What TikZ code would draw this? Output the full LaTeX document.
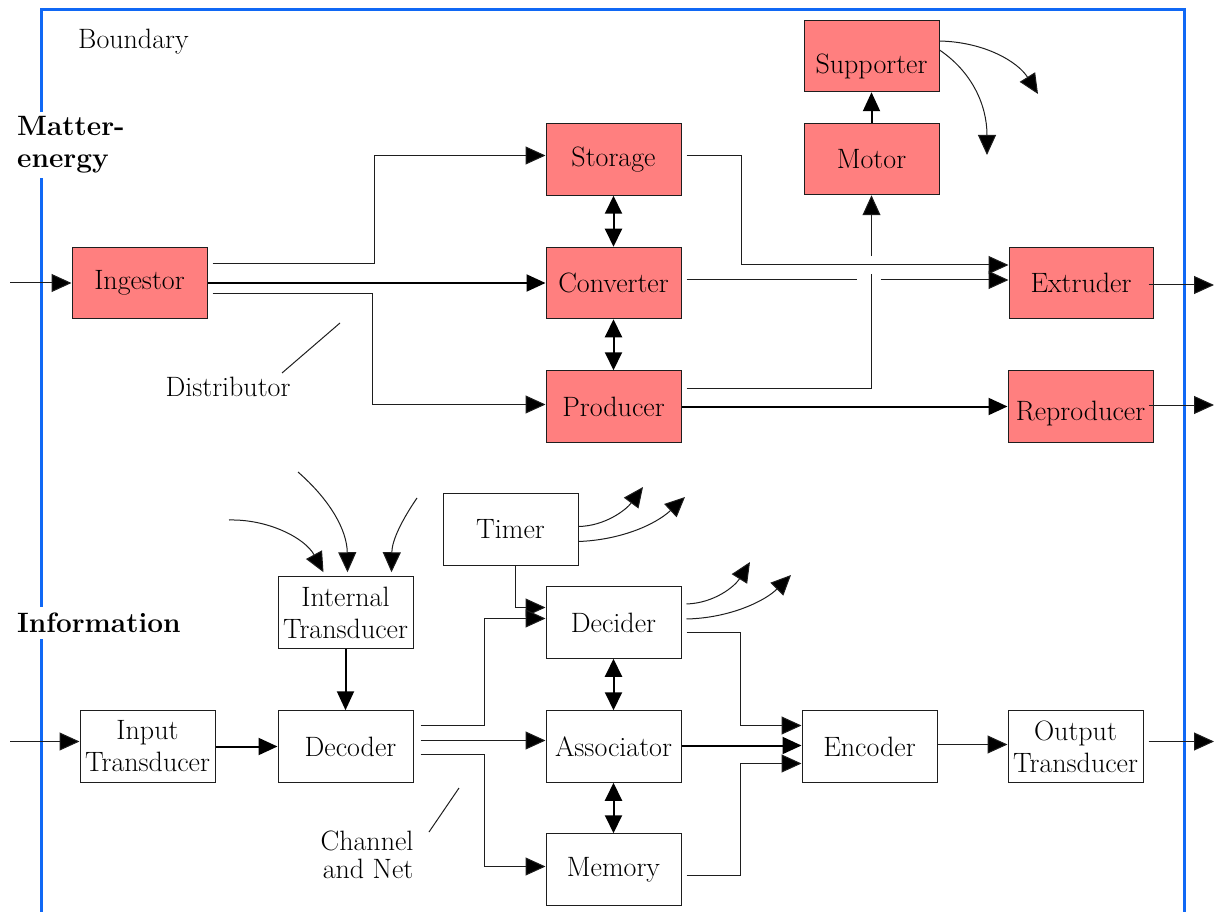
\documentclass[tikz,border=0pt]{standalone}
\usepackage{fontspec}
\usetikzlibrary{arrows.meta,calc}
\definecolor{pinkfill}{RGB}{255,127,127}
\definecolor{bound}{RGB}{16,104,245}
\definecolor{edge}{RGB}{30,30,30}
\begin{document}
\begin{tikzpicture}[x=1pt,y=-1pt,
  txt/.style={font=\fontsize{28}{32}\selectfont},
  btxt/.style={font=\fontsize{28}{32}\selectfont\bfseries},
  box/.style={txt,draw=edge,line width=1pt,minimum width=135pt,minimum height=71.5pt,inner sep=0pt,align=center},
  pbox/.style={box,fill=pinkfill},
  arr/.style={draw=edge,line width=1pt,-{Triangle[length=20pt,width=18pt,fill=black]}},
  tarr/.style={draw=black,line width=2pt,-{Triangle[length=19pt,width=17pt]}},
  darr/.style={draw=black,line width=2pt,{Triangle[length=18pt,width=17pt]}-{Triangle[length=18pt,width=17pt]}},
  ln/.style={draw=edge,line width=1pt},
  lbl/.style={txt,inner sep=2pt}
]
\useasboundingbox (0,0) rectangle (1216,912);
% boundary
\draw[bound,line width=3pt] (41,914) -- (41,10) -- (1184,10) -- (1184,914);

% matter-energy boxes
\node[pbox] (sup) at (871.5,56) {\raisebox{-18pt}[0pt][0pt]{Supporter}};
\node[pbox] (mot) at (871.5,159) {Motor};
\node[pbox] (stor) at (613.5,159.5) {Storage};
\node[pbox] (conv) at (613.5,283) {Converter};
\node[pbox] (prod) at (613.5,406.5) {Producer};
\node[pbox] (ing) at (139.5,283) {Ingestor};
\node[pbox,minimum width=144pt] (ext) at (1081,283) {Extruder};
\node[pbox,minimum width=145pt] (rep) at (1080.5,406.5) {\raisebox{-14pt}[0pt][0pt]{Reproducer}};

% information boxes
\node[box] (timer) at (510.5,529.5) {Timer};
\node[box] (intt) at (345.5,612.5) {Internal\\Transducer};
\node[box] (dec) at (613.5,622.5) {Decider};
\node[box] (inp) at (147.5,746.5) {Input\\Transducer};
\node[box] (decod) at (345.5,746.5) {\hspace*{10pt}Decoder};
\node[box] (assoc) at (613.5,746.5) {Associator};
\node[box] (mem) at (613.5,869.5) {Memory};
\node[box] (enc) at (869.5,746.5) {Encoder};
\node[box] (outt) at (1075.5,746.5) {Output\\Transducer};

% labels
\node[lbl,anchor=west] (boundlbl) at (76,42) {Boundary};
\node[lbl,btxt,fill=white,align=left,anchor=west,inner ysep=5pt] (melbl) at (15,145) {Matter-\\energy};
\node[lbl,btxt,fill=white,anchor=west,inner ysep=6pt] (inflbl) at (15,623) {Information};
\node[lbl] (distlbl) at (228,387) {Distributor};
\node[lbl,align=right,font=\fontsize{28}{28}\selectfont] (chlbl) at (367,855) {Channel\\and Net};
\coordinate (d1) at (282,373); \coordinate (d2) at (340,323);
\draw[ln] (d1) -- (d2);
\coordinate (c1) at (429,832); \coordinate (c2) at (459,788);
\draw[ln] (c1) -- (c2);

% ---- matter-energy connectors
\coordinate (ingin) at (10,283);
\draw[arr] (ingin) -- (ing.west);
\draw[arr] ([shift={(5,-19)}]ing.east) -- ++(162,0) |- ([shift={(0,-4)}]stor.west);
\draw[tarr] (ing.east) -- (conv.west);
\draw[arr] ([shift={(5,10)}]ing.east) -- ++(160,0) |- ([shift={(0,-2)}]prod.west);
\draw[darr] (stor.south) -- (conv.north);
\draw[darr] (conv.south) -- (prod.north);
\draw[arr] ([shift={(5,-4)}]stor.east) -- ++(55,0) |- ([shift={(0,-18)}]ext.west);
\draw[ln] ([shift={(5,-3)}]conv.east) -- ++(170,0);
\draw[arr] ([shift={(-128,-3)}]ext.west) -- ([shift={(0,-3)}]ext.west);
\draw[ln] ([shift={(5,-18)}]prod.east) -| ([shift={(0,79)}]mot.south);
\draw[arr] ([shift={(0,61)}]mot.south) -- (mot.south);
\draw[tarr] (prod.east) -- (rep.west);
\coordinate (extout) at (1214,285);
\draw[arr] ([shift={(-5,2)}]ext.east) -- (extout);
\coordinate (repout) at (1214,405);
\draw[arr] ([shift={(-5,-1.5)}]rep.east) -- (repout);
\draw[tarr] (mot.north) -- (sup.south);
\coordinate (s1) at (1038,94);
\coordinate (s2) at (987,155);
\draw[arr] ([shift={(0,-15)}]sup.east) .. controls (985,42) and (1018,62) .. (s1);
\draw[arr] ([shift={(0,-6)}]sup.east) .. controls (972,72) and (987,105) .. (s2);

% ---- information connectors
\coordinate (inpin) at (10,741.5);
\draw[arr] (inpin) -- ([shift={(0,-5)}]inp.west);
\draw[tarr] (inp.east) -- (decod.west);
\draw[tarr] (intt.south) -- (decod.north);
\coordinate (i1) at (229,520);
\coordinate (i2) at (298,472);
\coordinate (i3) at (417,498);
\draw[arr] (i1) .. controls (268,519) and (305,538) .. ([shift={(-22,-4)}]intt.north);
\draw[arr] (i2) .. controls (330,500) and (347,530) .. ([shift={(2,-4)}]intt.north);
\draw[arr] (i3) .. controls (402,520) and (392,540) .. ([shift={(46,-4)}]intt.north);
\draw[arr] ([shift={(4.5,0)}]timer.south) |- ([shift={(0,-15)}]dec.west);
\draw[arr] ([shift={(7,-21)}]decod.east) -- ++(64,0) |- ([shift={(0,-4)}]dec.west);
\draw[arr] ([shift={(7,-6)}]decod.east) -- ([shift={(0,-6)}]assoc.west);
\draw[arr] ([shift={(7,8)}]decod.east) -- ++(64,0) |- ([shift={(0,-3)}]mem.west);
\draw[darr] (dec.south) -- (assoc.north);
\draw[darr] (assoc.south) -- (mem.north);
\draw[arr] ([shift={(5,10)}]dec.east) -- ++(54,0) |- ([shift={(0,-21)}]enc.west);
\draw[tarr] ([shift={(0,-1)}]assoc.east) -- ([shift={(0,-1)}]enc.west);
\draw[arr] ([shift={(5,6)}]mem.east) -- ++(54,0) |- ([shift={(0,17)}]enc.west);
\draw[arr] ([shift={(0,-2)}]enc.east) -- ([shift={(0,-2)}]outt.west);
\coordinate (outtout) at (1214,741.5);
\draw[arr] ([shift={(5,-5)}]outt.east) -- (outtout);
\coordinate (t1) at (643,487);
\coordinate (t2) at (685,497);
\draw[arr] ([shift={(0,-3)}]timer.east) .. controls (605,526) and (626,510) .. (t1);
\draw[arr] ([shift={(0,12)}]timer.east) .. controls (620,540) and (655,525) .. (t2);
\coordinate (e1) at (750,562);
\coordinate (e2) at (791,575);
\draw[arr] ([shift={(5,-18.5)}]dec.east) .. controls (715,603) and (735,586) .. (e1);
\draw[arr] ([shift={(5,-3.5)}]dec.east) .. controls (730,618) and (765,601) .. (e2);
\end{tikzpicture}
\end{document}
